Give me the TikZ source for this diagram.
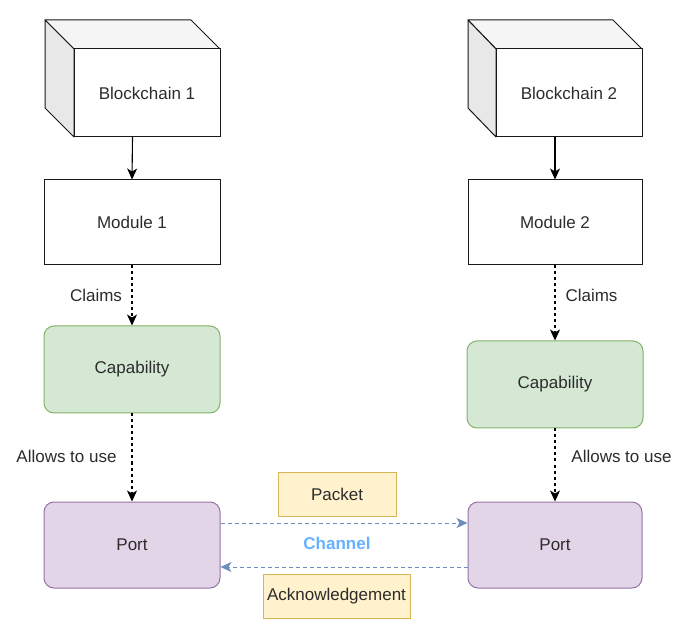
\documentclass[tikz,border=0pt]{standalone}
\usepackage{fontspec}
\setmainfont{Liberation Sans}
\usetikzlibrary{arrows.meta}
\definecolor{txt}{HTML}{2C2C2C}
\definecolor{grfill}{HTML}{D5E8D4}
\definecolor{grline}{HTML}{82B366}
\definecolor{pufill}{HTML}{E1D5E7}
\definecolor{puline}{HTML}{9673A6}
\definecolor{yefill}{HTML}{FFF2CC}
\definecolor{yeline}{HTML}{D6B656}
\definecolor{chline}{HTML}{6C8EBF}
\definecolor{chtext}{HTML}{66B2FF}
\tikzset{
  lbl/.style={font=\fontsize{17}{19}\selectfont, text=txt, inner sep=0pt},
  sqbox/.style={draw=black!90, line width=1pt, fill=white, lbl},
  rbox/.style={rounded corners=10pt, line width=1pt, lbl},
  capbox/.style={rbox, draw=grline, fill=grfill},
  portbox/.style={rbox, draw=puline, fill=pufill},
  msgbox/.style={draw=yeline, fill=yefill, line width=1pt, lbl},
  conn/.style={line width=1.1pt, -{Stealth[length=11pt,width=10pt,inset=3pt]}},
  dconn/.style={conn, dash pattern=on 3pt off 3pt},
  chan/.style={line width=1pt, draw=chline, dash pattern=on 4pt off 3pt, -{Stealth[length=11pt,width=10pt,inset=3pt]}, chline},
  cubeedge/.style={draw=black!90, line width=1pt, line join=round},
}
\begin{document}
\begin{tikzpicture}[x=1pt,y=-1pt]
\useasboundingbox (0,0) rectangle (686,628);
\fill[white] (0,0) rectangle (686,628);

% Blockchain 1 cube
\filldraw[cubeedge, fill=black!4] (45,20) -- (191,20) -- (220,49) -- (74,49) -- cycle;
\filldraw[cubeedge, fill=black!9] (45,20) -- (74,49) -- (74,137) -- (45,108) -- cycle;
\node[sqbox, minimum width=146pt, minimum height=88pt] (b1f) at (147,93) {Blockchain 1};
\node[inner sep=0pt, minimum width=175pt, minimum height=117pt] (b1) at (132.5,78.5) {};

% Blockchain 2 cube
\filldraw[cubeedge, fill=black!4] (468,20) -- (613,20) -- (642,49) -- (496,49) -- cycle;
\filldraw[cubeedge, fill=black!9] (468,20) -- (496,49) -- (496,137) -- (468,108) -- cycle;
\node[sqbox, minimum width=146pt, minimum height=88pt] (b2f) at (569,93) {Blockchain 2};
\node[inner sep=0pt, minimum width=174pt, minimum height=117pt] (b2) at (555,78.5) {};

% Modules
\node[sqbox, minimum width=176pt, minimum height=85pt] (m1) at (132,222.5) {Module 1};
\node[sqbox, minimum width=174pt, minimum height=85pt] (m2) at (555,222.5) {Module 2};

% Capabilities
\node[capbox, minimum width=176pt, minimum height=87pt] (c1) at (132,369.5) {Capability};
\node[capbox, minimum width=176pt, minimum height=87pt] (c2) at (555,384.5) {Capability};

% Ports
\node[portbox, minimum width=176pt, minimum height=86pt] (p1) at (132,545) {Port};
\node[portbox, minimum width=174pt, minimum height=86pt] (p2) at (555,545) {Port};

% Messages
\node[msgbox, minimum width=118pt, minimum height=44pt] (pk) at (337,494) {Packet};
\node[msgbox, minimum width=147pt, minimum height=44pt] (ack) at (336.5,596) {Acknowledgement};

% Connectors
\draw[conn] (b1.south) -- (m1.north);
\draw[conn] (b2.south) -- (m2.north);
\draw[dconn] (m1.south) -- (c1.north);
\draw[dconn] (c1.south) -- (p1.north);
\draw[dconn] (m2.south) -- (c2.north);
\draw[dconn] (c2.south) -- (p2.north);

\draw[chan] ([yshift=22pt]p1.east) -- ([yshift=22pt]p2.west);
\draw[chan] ([yshift=-22pt]p2.west) -- ([yshift=-22pt]p1.east);

% Labels
\node[lbl] (lc1) at (96,295) {Claims};
\node[lbl] (la1) at (66.5,456) {Allows to use};
\node[lbl] (lc2) at (591.5,295) {Claims};
\node[lbl] (la2) at (621.5,456) {Allows to use};
\node[lbl, text=chtext, font=\fontsize{17}{19}\selectfont\bfseries] (ch) at (337,543) {Channel};
\end{tikzpicture}
\end{document}
